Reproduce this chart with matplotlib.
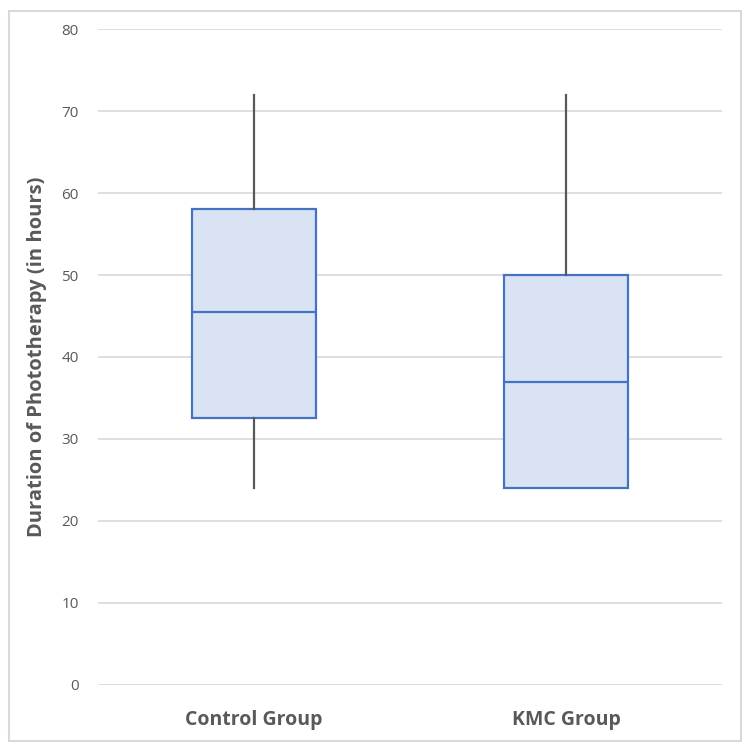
import matplotlib
matplotlib.use("Agg")
import matplotlib.pyplot as plt
from matplotlib.patches import Rectangle

# ── data ─────────────────────────────────────────────────────────────────────
groups = ["Control Group", "KMC Group"]
whisker_low = [24, 24]
q1 = [32.5, 24]
median = [45.5, 37]
q3 = [58, 50]
whisker_high = [72, 72]

y_ticks = [0, 10, 20, 30, 40, 50, 60, 70, 80]

BLUE = "#4472C4"
FILL = "#DAE3F3"
GRAY = "#595959"
GRID = "#D9D9D9"

plt.rcParams["font.family"] = ["Open Sans", "DejaVu Sans"]

fig = plt.figure(figsize=(7.5, 7.5), dpi=100)
ax = fig.add_axes([0.1307, 0.0867, 0.832, 0.8746])

stats = []
for i, name in enumerate(groups):
    stats.append({
        "label": name,
        "whislo": whisker_low[i],
        "q1": q1[i],
        "med": median[i],
        "q3": q3[i],
        "whishi": whisker_high[i],
        "fliers": [],
    })

ax.bxp(stats, positions=range(len(groups)), widths=0.4, patch_artist=True,
       showcaps=False, showfliers=False,
       boxprops=dict(facecolor=FILL, edgecolor=BLUE, linewidth=1.6),
       medianprops=dict(color=BLUE, linewidth=1.6),
       whiskerprops=dict(color=GRAY, linewidth=1.6),
       zorder=3)

ax.set_xlim(-0.5, 1.5)
ax.set_ylim(0, 80)
ax.set_yticks(y_ticks)
ax.yaxis.grid(True, color=GRID, linewidth=1.2, zorder=0)
ax.set_axisbelow(True)
for s in ax.spines.values():
    s.set_visible(False)
ax.tick_params(axis="both", length=0)
ax.tick_params(axis="y", labelsize=11, labelcolor=GRAY, pad=14)
ax.tick_params(axis="x", pad=18)
ax.set_xticks(range(len(groups)))
ax.set_xticklabels(groups, fontsize=14, fontweight="bold", color=GRAY)
ax.set_ylabel("Duration of Phototherapy (in hours)", fontsize=14.5,
              fontweight="bold", color=GRAY, labelpad=10)

# rahmen um die ganze grafik
fig.patches.append(Rectangle((0.012, 0.012), 0.976, 0.974, transform=fig.transFigure,
                             fill=False, edgecolor=GRID, linewidth=1.5))

fig.savefig("out.png", dpi=100)
